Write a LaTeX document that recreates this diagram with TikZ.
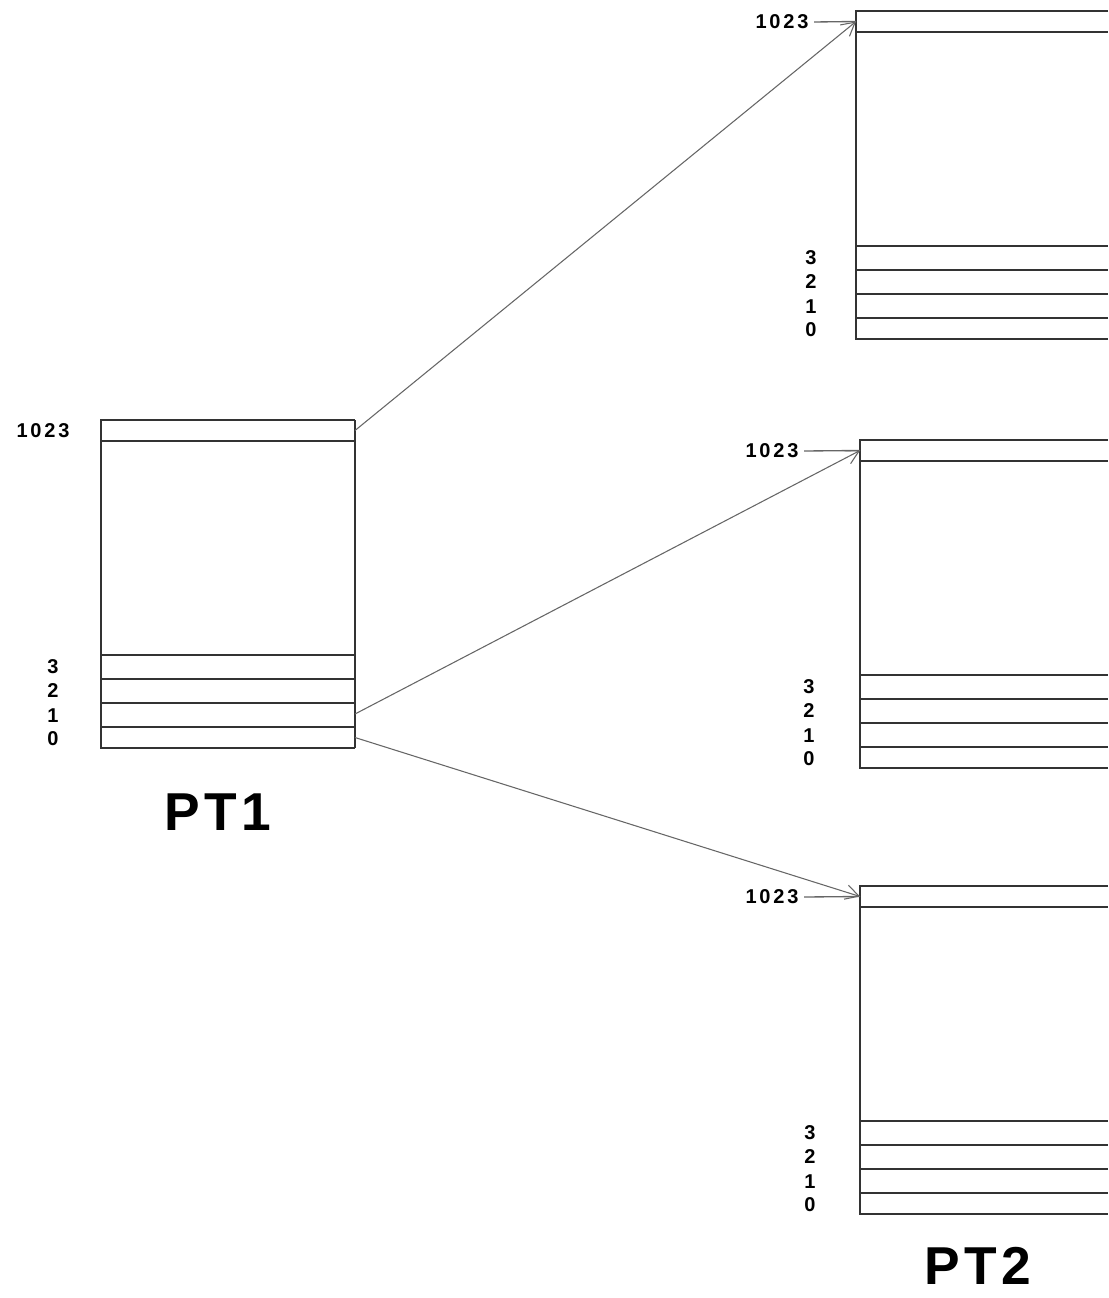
\documentclass[tikz,border=0pt]{standalone}
\usepackage{fontspec}
\setmainfont{Liberation Sans}
\usetikzlibrary{arrows.meta,positioning}
\tikzset{
 rowline/.style={draw=black!80, line width=1.4pt},
 ptr/.style={-{Straight Barb[length=10pt,width=11pt]}, draw=black!60, line width=0.8pt},
 leader/.style={draw=black!60, line width=1pt},
 idx/.style={font=\bfseries\fontsize{15}{15}\selectfont\addfontfeature{LetterSpace=14}, inner sep=0pt},
 title/.style={font=\bfseries\fontsize{40}{40}\selectfont\addfontfeature{LetterSpace=8}, inner sep=0pt}
}
% page table: name, left, top, right, x of 1023 label, x of row labels
\newcommand{\pagetable}[6]{%
 \draw[rowline] (#4,#3) -- (#2,#3) -- (#2,#3+328) -- (#4,#3+328);
 \foreach \dy in {21,235,259,283,307} \draw[rowline] (#2,#3+\dy) -- (#4,#3+\dy);
 \node[idx] (#1-l1023) at (#5,#3+11) {1023};
 \foreach \n/\dy in {3/247,2/271,1/296,0/319} \node[idx] (#1-l\n) at (#6,#3+\dy) {\n};
 \coordinate (#1-w1023) at (#2,#3+10.5);
 \coordinate (#1-e1023) at (#4,#3+10.5);
 \coordinate (#1-e1) at (#4,#3+294);
 \coordinate (#1-e0) at (#4,#3+317.5);
}

\begin{document}
\begin{tikzpicture}[x=0.75pt,y=-0.75pt]
\useasboundingbox (0,0) rectangle (1108,1298);
% first level table
\pagetable{PT1}{101}{420}{355}{43}{53}
\draw[rowline] (355,420) -- (355,748);
\node[title] (PT1-title) at (218,812) {PT1};
% second level tables
\pagetable{PTa}{856}{11}{1108}{782}{811}
\pagetable{PTb}{860}{440}{1108}{772}{809}
\pagetable{PTc}{860}{886}{1108}{772}{810}
\node[title] (PT2-title) at (978,1266) {PT2};
% leaders
\foreach \t in {PTa,PTb,PTc}
 \draw[leader] ([xshift=4pt]\t-l1023.east) -- (\t-w1023);
% pointers
\draw[ptr] (PT1-e1023) -- (PTa-w1023);
\draw[ptr] (PT1-e1) -- (PTb-w1023);
\draw[ptr] (PT1-e0) -- (PTc-w1023);
\end{tikzpicture}
\end{document}
